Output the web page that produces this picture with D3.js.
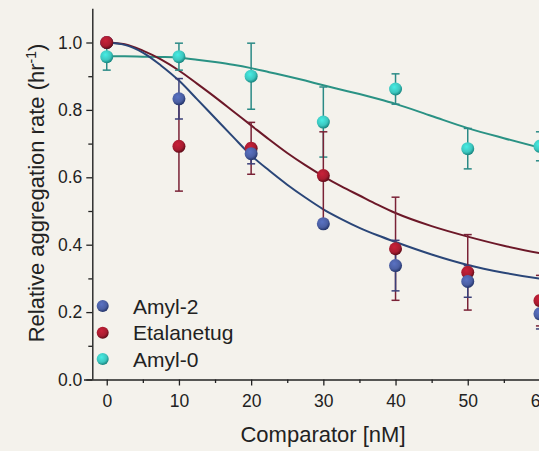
<!DOCTYPE html>
<html>
<head>
<meta charset="utf-8">
<script src="https://cdn.jsdelivr.net/npm/d3@7/dist/d3.min.js"></script>
<style>
  html, body { margin: 0; padding: 0; background: #f4f2ec; }
  svg { display: block; font-family: "Liberation Sans", Arial, sans-serif; }
</style>
</head>
<body>
<svg id="chart" width="539" height="451"></svg>
<script>
// ---- data ----
const concentrations = [0, 10, 20, 30, 40, 50, 60];
const seriesNames = ["Amyl-2", "Etalanetug", "Amyl-0"];

const amyl2Values = [1.0, 0.833, 0.670, 0.462, 0.338, 0.291, 0.195];
const amyl2Errors = [0.0, 0.060, 0.030, 0.010, 0.075, 0.047, 0.045];

const etalanetugValues = [1.0, 0.692, 0.686, 0.605, 0.388, 0.318, 0.234];
const etalanetugErrors = [0.0, 0.133, 0.077, 0.130, 0.153, 0.112, 0.075];

const amyl0Values = [0.958, 0.958, 0.900, 0.764, 0.862, 0.685, 0.692];
const amyl0Errors = [0.040, 0.040, 0.098, 0.104, 0.045, 0.060, 0.043];

// fitted curves
const fitX = [0, 2.5, 5, 7.5, 10, 12.5, 15, 17.5, 20, 22.5, 25, 27.5, 30, 32.5, 35, 37.5, 40, 45, 50, 55, 60, 64];
const amyl2Fit = [1.0, 0.993, 0.970, 0.932, 0.887, 0.832, 0.776, 0.720, 0.665, 0.620, 0.578, 0.540, 0.505, 0.476, 0.450, 0.428, 0.408, 0.371, 0.340, 0.317, 0.299, 0.288];
const etalanetugFit = [1.0, 0.995, 0.976, 0.950, 0.917, 0.878, 0.838, 0.796, 0.754, 0.712, 0.672, 0.636, 0.603, 0.573, 0.546, 0.519, 0.494, 0.455, 0.424, 0.397, 0.375, 0.362];
const amyl0Fit = [0.959, 0.959, 0.958, 0.957, 0.955, 0.949, 0.942, 0.934, 0.924, 0.912, 0.900, 0.887, 0.873, 0.860, 0.847, 0.833, 0.818, 0.782, 0.746, 0.716, 0.688, 0.668];

const xMajorTicks = [0, 10, 20, 30, 40, 50, 60];
const xMinorTicks = [5, 15, 25, 35, 45, 55];
const yMajorTicks = [0.0, 0.2, 0.4, 0.6, 0.8, 1.0];
const yMinorTicks = [0.1, 0.3, 0.5, 0.7, 0.9];

// ---- styles ----
const colors = {
  "Amyl-2":     { point: "#4b5fa3", dark: "#23346a", line: "#2a4678", err: "#3a3f78" },
  "Etalanetug": { point: "#a81c30", dark: "#5e0c18", line: "#6c1828", err: "#7a2236" },
  "Amyl-0":     { point: "#3cc6bf", dark: "#17857e", line: "#2a9284", err: "#2a8a86" }
};

const svg = d3.select("#chart");
const x = d3.scaleLinear().domain([-2, 64]).range([92.3, 92.3 + 66 * 7.22]);
const y = d3.scaleLinear().domain([0, 1.1]).range([379.5, 8.8]);

// gradients
const defs = svg.append("defs");
seriesNames.forEach((name, i) => {
  const g = defs.append("radialGradient").attr("id", "grad" + i)
    .attr("cx", "40%").attr("cy", "35%").attr("r", "65%");
  g.append("stop").attr("offset", "0%").attr("stop-color", d3.color(colors[name].point).brighter(0.5));
  g.append("stop").attr("offset", "65%").attr("stop-color", colors[name].point);
  g.append("stop").attr("offset", "100%").attr("stop-color", colors[name].dark);
});

// ---- axes ----
const axisColor = "#222";
const xAxis = svg.append("g").attr("transform", `translate(0,${y(0)})`);
xAxis.call(d3.axisBottom(x).tickValues(xMajorTicks).tickSize(6).tickPadding(9).tickFormat(d3.format("d")));
xAxis.append("g").call(d3.axisBottom(x).tickValues(xMinorTicks).tickSize(3.5).tickFormat(""))
  .select(".domain").remove();
xAxis.selectAll(".domain").attr("d", `M84,0.5H600`).attr("stroke", axisColor).attr("stroke-width", 1.4);
xAxis.selectAll(".tick line").attr("stroke", axisColor).attr("stroke-width", 1.3);
xAxis.selectAll(".tick text").attr("font-size", 17.5).attr("fill", "#222")
  .attr("font-family", "Liberation Sans, Arial, sans-serif");

const yAxis = svg.append("g").attr("transform", `translate(${x(-2)},0)`);
yAxis.call(d3.axisLeft(y).tickValues(yMajorTicks).tickSize(6).tickPadding(4).tickFormat(d3.format(".1f")));
yAxis.append("g").call(d3.axisLeft(y).tickValues(yMinorTicks).tickSize(4).tickFormat(""))
  .select(".domain").remove();
yAxis.selectAll(".domain").attr("d", `M0.5,${y(0)}V${y(1.1)}`).attr("stroke", axisColor).attr("stroke-width", 1.4);
yAxis.selectAll(".tick line").attr("stroke", axisColor).attr("stroke-width", 1.3);
yAxis.selectAll(".tick text").attr("font-size", 17.5).attr("fill", "#222")
  .attr("font-family", "Liberation Sans, Arial, sans-serif");

// axis titles
svg.append("text").attr("x", 323).attr("y", 442)
  .attr("text-anchor", "middle").attr("font-size", 22).attr("fill", "#222")
  .text("Comparator [nM]");

const yt = svg.append("text").attr("transform", "translate(44,193) rotate(-90)")
  .attr("text-anchor", "middle").attr("font-size", 22).attr("fill", "#222");
yt.append("tspan").text("Relative aggregation rate (hr");
yt.append("tspan").attr("font-size", 14).attr("dy", -8).text("-1");
yt.append("tspan").attr("dy", 8).text(")");

// ---- curves ----
const line = d3.line().x(d => x(d[0])).y(d => y(d[1])).curve(d3.curveMonotoneX);
const fits = { "Amyl-2": amyl2Fit, "Etalanetug": etalanetugFit, "Amyl-0": amyl0Fit };
["Amyl-0", "Etalanetug", "Amyl-2"].forEach(name => {
  svg.append("path")
    .datum(fitX.map((xv, i) => [xv, fits[name][i]]))
    .attr("d", line).attr("fill", "none")
    .attr("stroke", colors[name].line).attr("stroke-width", 2);
});

// ---- error bars + points ----
const seriesData = {
  "Amyl-2": { v: amyl2Values, e: amyl2Errors },
  "Etalanetug": { v: etalanetugValues, e: etalanetugErrors },
  "Amyl-0": { v: amyl0Values, e: amyl0Errors }
};
const cap = 4;
["Amyl-0", "Etalanetug", "Amyl-2"].forEach(name => {
  const s = seriesData[name];
  const g = svg.append("g");
  concentrations.forEach((c, i) => {
    if (s.e[i] <= 0) return;
    const cx = x(c), y1 = y(s.v[i] + s.e[i]), y2 = y(s.v[i] - s.e[i]);
    g.append("line").attr("x1", cx).attr("x2", cx).attr("y1", y1).attr("y2", y2)
      .attr("stroke", colors[name].err).attr("stroke-width", 1.5);
    [y1, y2].forEach(yy => g.append("line").attr("x1", cx - cap).attr("x2", cx + cap)
      .attr("y1", yy).attr("y2", yy).attr("stroke", colors[name].err).attr("stroke-width", 1.5));
  });
});
["Amyl-0", "Etalanetug", "Amyl-2"].forEach(name => {
  const s = seriesData[name];
  const idx = seriesNames.indexOf(name);
  svg.append("g").selectAll("circle").data(concentrations).join("circle")
    .attr("cx", d => x(d)).attr("cy", (d, i) => y(s.v[i])).attr("r", 6.5)
    .attr("fill", `url(#grad${idx})`);
});
// red point at 0 drawn on top, as in the reference
svg.append("circle").attr("cx", x(concentrations[0])).attr("cy", y(etalanetugValues[0]))
  .attr("r", 6.5).attr("fill", "url(#grad1)");

// ---- legend ----
const legY = [306, 332.7, 359];
seriesNames.forEach((name, i) => {
  svg.append("circle").attr("cx", 102.7).attr("cy", legY[i]).attr("r", 6)
    .attr("fill", `url(#grad${i})`);
  svg.append("text").attr("x", 133).attr("y", legY[i] + 7.5)
    .attr("font-size", 21).attr("fill", "#222").text(name);
});
</script>
</body>
</html>
